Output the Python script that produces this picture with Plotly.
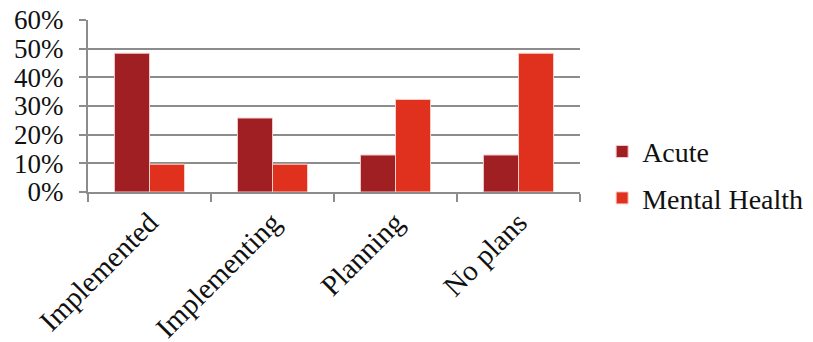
import plotly.graph_objects as go

categories = ["Implemented", "Implementing", "Planning", "No plans"]
acute = [48.4, 25.8, 12.9, 12.9]
mental_health = [9.7, 9.7, 32.3, 48.4]
y_ticks = [0, 10, 20, 30, 40, 50, 60]
y_tick_labels = ["0%", "10%", "20%", "30%", "40%", "50%", "60%"]

FONT = "Liberation Serif"
GRID = "#8c8c8c"

fig = go.Figure()
fig.add_trace(go.Bar(
    x=categories, y=acute, name="Acute", legendgroup="a",
    marker=dict(color="#A01F22", line=dict(color="#F2C9C9", width=1)),
))
fig.add_trace(go.Bar(
    x=categories, y=mental_health, name="Mental Health", legendgroup="b",
    marker=dict(color="#E0301E", line=dict(color="#F8D0C8", width=1)),
))

fig.update_layout(
    width=813, height=342,
    margin=dict(l=88, r=233, t=20, b=150, autoexpand=False),
    paper_bgcolor="white", plot_bgcolor="white",
    barmode="group", bargap=0.43, bargroupgap=0,
    font=dict(family=FONT, size=27, color="#111"),
    legend=dict(x=1.045, xanchor="left", y=0.1, yanchor="middle",
                font=dict(family=FONT, size=28, color="#111"),
                tracegroupgap=7, bgcolor="rgba(0,0,0,0)"),
    showlegend=True,
)
fig.update_xaxes(
    type="category", tickangle=-45, tickson="boundaries",
    ticks="outside", ticklen=8, tickcolor=GRID, tickwidth=2,
    showline=True, linecolor=GRID, linewidth=2, showgrid=False,
    tickfont=dict(family=FONT, size=29, color="#111"),
)
fig.update_yaxes(
    range=[0, 60], tickvals=y_ticks, ticktext=y_tick_labels,
    ticks="outside", ticklen=7, tickcolor=GRID, tickwidth=2,
    showline=True, linecolor=GRID, linewidth=2,
    showgrid=True, gridcolor=GRID, gridwidth=2, ticklabelstandoff=10,
    zeroline=False, tickfont=dict(family=FONT, size=27, color="#111"),
)

fig.write_html("out.html")
